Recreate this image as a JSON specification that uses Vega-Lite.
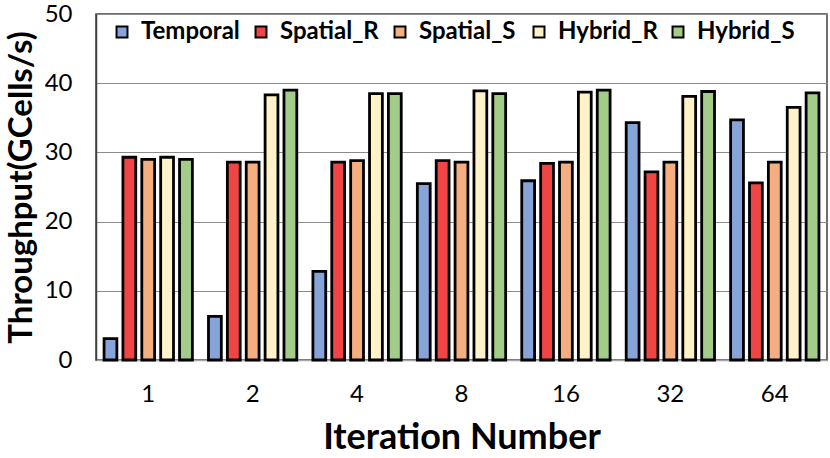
{
  "$schema": "https://vega.github.io/schema/vega-lite/v6.json",
  "width": 731,
  "height": 346,
  "autosize": {"type": "none"},
  "padding": {"left": 96, "top": 14, "right": 3, "bottom": 98},
  "background": "white",
  "config": {
    "font": "Lato",
    "view": {"stroke": "#404040", "strokeWidth": 1.5},
    "axis": {"labelFont": "Lato", "titleFont": "Lato", "labelColor": "black", "titleColor": "black"}
  },
  "data": {
    "values": [
      {"iter": "1", "series": "Temporal", "value": 3.1},
      {"iter": "1", "series": "Spatial_R", "value": 29.3},
      {"iter": "1", "series": "Spatial_S", "value": 29.0},
      {"iter": "1", "series": "Hybrid_R", "value": 29.3},
      {"iter": "1", "series": "Hybrid_S", "value": 29.0},
      {"iter": "2", "series": "Temporal", "value": 6.3},
      {"iter": "2", "series": "Spatial_R", "value": 28.6},
      {"iter": "2", "series": "Spatial_S", "value": 28.6},
      {"iter": "2", "series": "Hybrid_R", "value": 38.3},
      {"iter": "2", "series": "Hybrid_S", "value": 39.0},
      {"iter": "4", "series": "Temporal", "value": 12.8},
      {"iter": "4", "series": "Spatial_R", "value": 28.6},
      {"iter": "4", "series": "Spatial_S", "value": 28.8},
      {"iter": "4", "series": "Hybrid_R", "value": 38.5},
      {"iter": "4", "series": "Hybrid_S", "value": 38.5},
      {"iter": "8", "series": "Temporal", "value": 25.5},
      {"iter": "8", "series": "Spatial_R", "value": 28.8},
      {"iter": "8", "series": "Spatial_S", "value": 28.6},
      {"iter": "8", "series": "Hybrid_R", "value": 38.9},
      {"iter": "8", "series": "Hybrid_S", "value": 38.5},
      {"iter": "16", "series": "Temporal", "value": 25.9},
      {"iter": "16", "series": "Spatial_R", "value": 28.4},
      {"iter": "16", "series": "Spatial_S", "value": 28.6},
      {"iter": "16", "series": "Hybrid_R", "value": 38.7},
      {"iter": "16", "series": "Hybrid_S", "value": 39.0},
      {"iter": "32", "series": "Temporal", "value": 34.3},
      {"iter": "32", "series": "Spatial_R", "value": 27.2},
      {"iter": "32", "series": "Spatial_S", "value": 28.6},
      {"iter": "32", "series": "Hybrid_R", "value": 38.1},
      {"iter": "32", "series": "Hybrid_S", "value": 38.8},
      {"iter": "64", "series": "Temporal", "value": 34.7},
      {"iter": "64", "series": "Spatial_R", "value": 25.6},
      {"iter": "64", "series": "Spatial_S", "value": 28.6},
      {"iter": "64", "series": "Hybrid_R", "value": 36.5},
      {"iter": "64", "series": "Hybrid_S", "value": 38.6}
    ]
  },
  "mark": {"type": "bar", "stroke": "black", "strokeWidth": 2.8},
  "encoding": {
    "x": {
      "field": "iter",
      "type": "nominal",
      "sort": ["1", "2", "4", "8", "16", "32", "64"],
      "scale": {"paddingInner": 0.1, "paddingOuter": 0.05},
      "axis": {
        "title": "Iteration Number",
        "labelAngle": 0,
        "labelFontSize": 24,
        "labelPadding": 22,
        "ticks": false,
        "tickSize": 0,
        "domainColor": "#a6a6a6",
        "domainWidth": 1.5,
        "titleFontSize": 36,
        "titleFontWeight": "bold",
        "titlePadding": 14
      }
    },
    "xOffset": {
      "field": "series",
      "type": "nominal",
      "sort": ["Temporal", "Spatial_R", "Spatial_S", "Hybrid_R", "Hybrid_S"],
      "scale": {"paddingInner": 0.32, "paddingOuter": 0.15}
    },
    "y": {
      "field": "value",
      "type": "quantitative",
      "scale": {"domain": [0, 50], "nice": false},
      "axis": {
        "title": "Throughput(GCells/s)",
        "values": [0, 10, 20, 30, 40, 50],
        "labelFontSize": 24,
        "labelPadding": 24,
        "ticks": false,
        "tickSize": 0,
        "domainColor": "#404040",
        "domainWidth": 1.5,
        "gridColor": "#8c8c8c",
        "gridWidth": 1.2,
        "titleFontSize": 33,
        "titleFontWeight": "bold",
        "titlePadding": 6
      }
    },
    "color": {
      "field": "series",
      "type": "nominal",
      "sort": ["Temporal", "Spatial_R", "Spatial_S", "Hybrid_R", "Hybrid_S"],
      "scale": {
        "domain": ["Temporal", "Spatial_R", "Spatial_S", "Hybrid_R", "Hybrid_S"],
        "range": ["#86a4da", "#f04545", "#f4ae80", "#fff1c8", "#a3cc88"]
      },
      "legend": {
        "title": null,
        "orient": "none",
        "direction": "horizontal",
        "columns": 5,
        "gridAlign": "all",
        "legendX": 14,
        "legendY": 6,
        "symbolType": "square",
        "symbolSize": 120,
        "symbolStrokeColor": "black",
        "symbolStrokeWidth": 2,
        "symbolOpacity": 1,
        "labelFont": "Lato",
        "labelFontSize": 24,
        "labelFontWeight": "bold",
        "labelColor": "black",
        "labelOffset": 7,
        "columnPadding": 8,
        "labelLimit": 300
      }
    }
  }
}
